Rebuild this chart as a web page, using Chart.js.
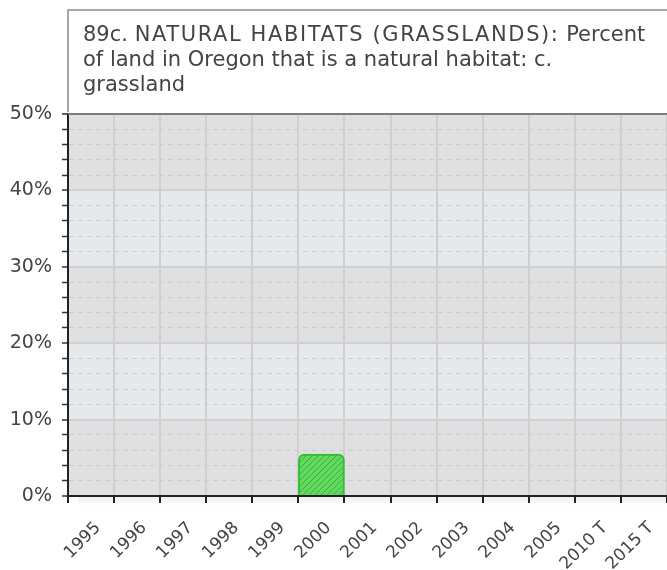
<!DOCTYPE html>
<html>
<head>
<meta charset="utf-8">
<script src="https://cdn.jsdelivr.net/npm/chart.js@4"></script>
<style>
body{margin:0;background:#fff;}
#wrap{position:relative;width:667px;height:570px;overflow:hidden;}
#titulo{position:absolute;left:67px;top:9px;width:720px;height:103px;border-top:2px solid #a6a6a6;border-left:2px solid #a6a6a6;
font-family:"DejaVu Sans",Verdana,sans-serif;font-size:21px;line-height:25px;color:#444;padding:11px 0 0 14px;box-sizing:border-box;white-space:nowrap;}
#titulo .may{letter-spacing:1.6px;}
</style>
</head>
<body>
<div id="wrap">
<canvas id="grafico" width="667" height="570"></canvas>
<div id="titulo">89c. <span class="may">NATURAL HABITATS (GRASSLANDS):</span> Percent<br>of land in Oregon that is a natural habitat: c.<br>grassland</div>
</div>
<script>
// Datos
const años = ["1995","1996","1997","1998","1999","2000","2001","2002","2003","2004","2005","2010 T","2015 T"];
const valores = [null,null,null,null,null,5.5,null,null,null,null,null,null,null];
const yMin = 0, yMax = 50, yPaso = 2, yEtiqueta = 10;

// Patrón rayado para la barra
function rayado(){
let c = document.createElement("canvas");
c.width = 6; c.height = 6;
let x = c.getContext("2d");
x.fillStyle = "#62da62";
x.fillRect(0,0,6,6);
x.strokeStyle = "#3fae3f";
x.lineWidth = 1;
x.beginPath();
x.moveTo(-1,7); x.lineTo(7,-1);
x.moveTo(-4,4); x.lineTo(4,-4);
x.moveTo(2,10); x.lineTo(10,2);
x.stroke();
return x.createPattern(c,"repeat");
}
let patron = rayado();

// Bandas de fondo, borde superior y sombra del eje
const fondo = {
id:"fondo",
beforeDraw(chart){
let {ctx, chartArea:a, scales:{y}} = chart;
ctx.save();
for(let v=yMin; v<yMax; v+=yEtiqueta){
ctx.fillStyle = ((v/yEtiqueta) % 2 === 0) ? "#e0e0e2" : "#e6e9ec";
let t = y.getPixelForValue(v+yEtiqueta), b = y.getPixelForValue(v);
ctx.fillRect(a.left, t, a.right-a.left, b-t);
}
// sombra bajo el eje x
let g = ctx.createLinearGradient(0, a.bottom, 0, a.bottom+10);
g.addColorStop(0,"rgba(0,0,0,0.07)");
g.addColorStop(1,"rgba(0,0,0,0)");
ctx.fillStyle = g;
ctx.fillRect(a.left+10, a.bottom, a.right-a.left-10, 10);
ctx.restore();
},
afterDraw(chart){
let {ctx, chartArea:a} = chart;
ctx.save();
ctx.strokeStyle = "#7c7c7c";
ctx.lineWidth = 2;
ctx.beginPath();
ctx.moveTo(a.left, a.top); ctx.lineTo(a.right, a.top);
ctx.stroke();
ctx.restore();
}
};

const fuente = {family:'"DejaVu Sans", Verdana, sans-serif', size:19};

new Chart(document.getElementById("grafico"),{
type:"bar",
data:{
labels:años,
datasets:[{data:valores, backgroundColor:patron, borderColor:"#2fbf2f", borderWidth:2,
borderSkipped:"bottom", borderRadius:{topLeft:6,topRight:6}, barPercentage:1, categoryPercentage:1}]
},
options:{
responsive:false, animation:false,
layout:{padding:{top:114,left:0,right:0,bottom:0}},
plugins:{legend:{display:false}, tooltip:{enabled:false}, title:{display:false}},
scales:{
x:{
offset:true,
grid:{offset:true, color:"#cfcfcf", lineWidth:2, tickColor:"#222", tickWidth:2, tickLength:7},
border:{color:"#222", width:2},
ticks:{font:{family:fuente.family, size:17}, color:"#444", minRotation:45, maxRotation:45, autoSkip:false, padding:15, labelOffset:7},
afterFit(s){ s.height = 74; s.paddingLeft = 0; s.paddingRight = 0; }
},
y:{
min:yMin, max:yMax,
grid:{
color:c => (c.tick && c.tick.value % yEtiqueta === 0) ? "#d0d0d0" : "#cdcdcd",
lineWidth:c => (c.tick && c.tick.value % yEtiqueta === 0) ? 2 : 1,
tickColor:"#333", tickWidth:1.5, tickLength:6, tickBorderDash:[]
},
border:{color:"#222", width:2, dash:c => (c.tick && c.tick.value % yEtiqueta !== 0) ? [5,4] : []},
ticks:{stepSize:yPaso, autoSkip:false, font:fuente, color:"#444", padding:10,
callback:v => (v % yEtiqueta === 0) ? v + "%" : ""},
afterFit(s){ s.width = 68; }
}
}
},
plugins:[fondo]
});
</script>
</body>
</html>
